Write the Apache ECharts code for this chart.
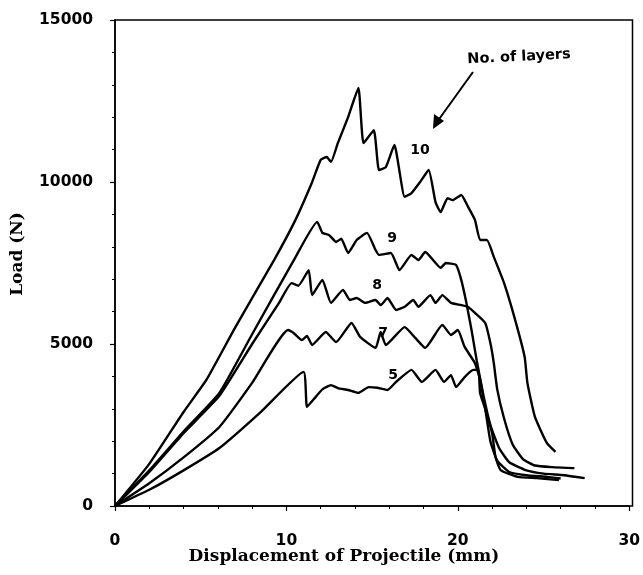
<!DOCTYPE html>
<html><head><meta charset="utf-8">
<script src="https://cdn.jsdelivr.net/npm/echarts@6/dist/echarts.min.js"></script>
<style>html,body{margin:0;padding:0;background:#fff}#c{width:643px;height:575px}</style>
</head><body><div id="c"></div>
<script>
// Curve data: displacement (mm) and load (N) for each number of layers
const x10 = [0,2,4,5.33,7,9.28,10.5,11.48,12.0,12.35,12.6,13.0,13.6,14.2,14.5,15.1,15.4,15.8,16.3,16.9,17.3,17.8,18.3,18.7,19.0,19.4,19.7,20.2,20.6,21.0,21.3,21.7,22.1,22.7,23.3,23.9,24.06,24.5,25.2,25.7];
const y10 = [0,1300,2900,3890,5500,7590,8800,9970,10680,10770,10620,11200,12000,12900,11200,11600,10370,10460,11140,9540,9660,10000,10370,9380,9070,9500,9440,9600,9230,8830,8210,8210,7690,6880,5830,4600,3800,2750,1940,1670];

const x9 = [0,2,4,6.09,8,10.5,11.8,12.1,12.5,12.9,13.2,13.6,14.1,14.7,15.2,15.4,16.1,16.6,17.3,17.7,18.1,19.0,19.3,19.9,20.2,20.5,20.8,21.1,21.5,21.9,22.4,23.0,24.0,25.0,26.2,27.4];
const y9 = [0,1100,2300,3490,5300,7650,8770,8430,8360,8150,8250,7810,8210,8430,7900,7750,7810,7280,7750,7590,7840,7350,7500,7440,6980,6270,5430,4500,3400,2500,1800,1350,1100,1000,950,860];

const x8 = [0,2,4,6.09,8,9.57,10.3,10.7,11.3,11.5,12.1,12.6,13.3,13.7,14.1,14.6,15.2,15.5,15.9,16.4,16.9,17.4,17.7,18.4,18.7,19.1,19.6,20.2,20.6,21.0,21.6,21.9,22.1,22.3,22.7,23.2,23.8,24.5,25.5,26.8];
const y8 = [0,1050,2250,3400,5000,6270,6880,6800,7280,6510,6980,6270,6670,6360,6420,6270,6360,6200,6420,6050,6150,6360,6150,6510,6270,6510,6270,6200,6140,5960,5650,5030,4410,3600,2700,1900,1450,1250,1200,1170];

const x7 = [0,2,4,6.09,8,10.1,10.4,10.9,11.2,11.5,12.3,12.9,13.8,14.3,15.2,15.5,15.8,16.9,17.5,18.1,19.1,19.6,20.0,20.4,21.0,21.3,21.6,21.9,22.3,23.0,24.0,25.2,26.0];
const y7 = [0,700,1500,2440,3800,5430,5350,5120,5250,4970,5370,5060,5650,5220,4880,5370,4970,5520,5200,4880,5590,5280,5430,4910,4410,3900,3000,2000,1400,1050,950,900,850];

const x5 = [0,2,4,6.09,8.5,11.0,11.2,11.7,12.1,12.6,13.0,13.6,14.2,14.8,15.3,15.9,16.4,17.3,17.9,18.7,19.2,19.6,19.9,20.4,20.9,21.2,21.3,21.6,22.0,22.2,22.5,23.5,24.6,25.9];
const y5 = [0,500,1100,1790,2900,4140,3060,3360,3600,3730,3640,3580,3490,3670,3650,3580,3830,4200,3830,4200,3830,4040,3670,3980,4200,4200,3490,3000,2250,1510,1110,900,860,800];

const xTicks = [0,10,20,30];
const yTicks = [0,5000,10000,15000];
const curveLabels = ['10','9','8','7','5'];

function pairs(xs, ys){ return xs.map((x,i)=>[x,ys[i]]); }
const curves = [[x10,y10],[x9,y9],[x8,y8],[x7,y7],[x5,y5]];

const chart = echarts.init(document.getElementById('c'), null, {renderer:'canvas'});
const lineStyle = {color:'#000', width:2.4};
const tickFont = {color:'#000', fontFamily:'"DejaVu Sans", sans-serif', fontWeight:'bold', fontSize:15.5};
chart.setOption({
  animation:false,
  backgroundColor:'#fff',
  grid:{left:115, right:10.5, top:20, bottom:69},
  xAxis:{type:'value', min:xTicks[0], max:xTicks[xTicks.length-1], interval:10,
    axisLine:{show:true, onZero:false, lineStyle:{color:'#000', width:1.5}},
    axisTick:{show:true, inside:false, length:5, lineStyle:{color:'#000', width:1.2}},
    minorTick:{show:true, splitNumber:5, length:3, lineStyle:{color:'#000', width:1}},
    axisLabel:{...tickFont, margin:27, formatter:(v)=>String(v)},
    splitLine:{show:false}},
  yAxis:{type:'value', min:yTicks[0], max:yTicks[yTicks.length-1], interval:5000,
    axisLine:{show:true, onZero:false, lineStyle:{color:'#000', width:1.5}},
    axisTick:{show:true, inside:false, length:5, lineStyle:{color:'#000', width:1.2}},
    minorTick:{show:true, splitNumber:5, length:3, lineStyle:{color:'#000', width:1}},
    axisLabel:{...tickFont, margin:22, formatter:(v)=>String(v)},
    splitLine:{show:false}},
  series: curves.map((c,i)=>({type:'line', name:curveLabels[i], data:pairs(c[0],c[1]),
    showSymbol:false, symbol:'none', smooth:0.15, lineStyle:lineStyle, silent:true}))
});

// frame (top and right border) and annotations
const g = [];
g.push({type:'rect', shape:{x:115, y:20, width:517.5, height:486}, style:{fill:'none', stroke:'#000', lineWidth:1.5}, silent:true});
const labelPos = [[420,150],[392,238],[377,285],[383,333],[393,375]];
const bold = 'bold 14px "DejaVu Sans", sans-serif';
curveLabels.forEach((t,i)=>{
  g.push({type:'text', x:labelPos[i][0], y:labelPos[i][1], style:{text:t, fill:'#000', font:bold, textAlign:'center', textVerticalAlign:'middle'}});
});
g.push({type:'text', x:519, y:57, rotation:0.05, style:{text:'No. of layers', fill:'#000', font:'bold 14.5px "DejaVu Sans", sans-serif', textAlign:'center', textVerticalAlign:'middle'}});
g.push({type:'line', shape:{x1:473, y1:72, x2:437, y2:122}, style:{stroke:'#000', lineWidth:2}});
g.push({type:'polygon', shape:{points:[[433,129],[434,114],[444,121]]}, style:{fill:'#000'}});
g.push({type:'text', x:344, y:557, style:{text:'Displacement of Projectile (mm)', fill:'#000', font:'bold 17px "DejaVu Serif", serif', textAlign:'center', textVerticalAlign:'middle'}});
g.push({type:'text', x:17.5, y:254, rotation:Math.PI/2, style:{text:'Load (N)', fill:'#000', font:'bold 17px "DejaVu Serif", serif', textAlign:'center', textVerticalAlign:'middle'}});
chart.setOption({graphic:g});
</script></body></html>
